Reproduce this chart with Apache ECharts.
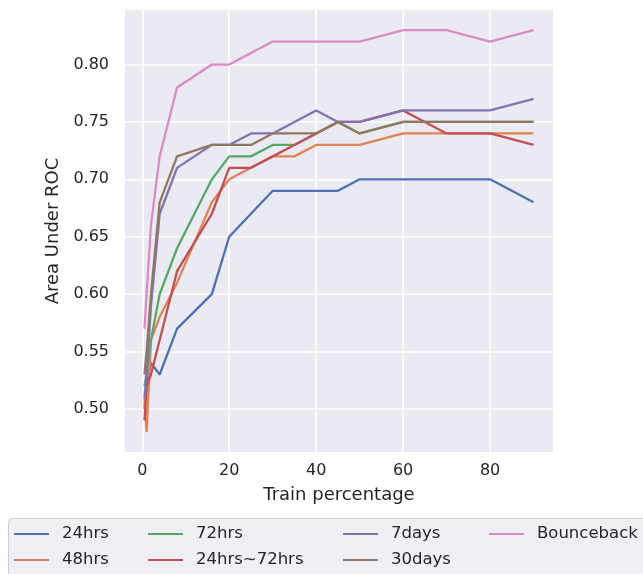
<!DOCTYPE html>
<html>
<head>
<meta charset="utf-8">
<script src="https://cdn.jsdelivr.net/npm/echarts@6/dist/echarts.min.js"></script>
<style>html,body{margin:0;padding:0;background:#fff}#c{width:643px;height:574px}</style>
</head>
<body>
<div id="c"></div>
<script>
const trainPct = [0.5, 1, 2, 4, 8, 16, 20, 25, 30, 35, 40, 45, 50, 60, 70, 80, 90];
const s24hrs      = [0.50, 0.52, 0.54, 0.53, 0.57, 0.60, 0.65, 0.67, 0.69, 0.69, 0.69, 0.69, 0.70, 0.70, 0.70, 0.70, 0.68];
const s48hrs      = [0.51, 0.48, 0.56, 0.58, 0.61, 0.68, 0.70, 0.71, 0.72, 0.72, 0.73, 0.73, 0.73, 0.74, 0.74, 0.74, 0.74];
const s72hrs      = [0.52, 0.53, 0.56, 0.60, 0.64, 0.70, 0.72, 0.72, 0.73, 0.73, 0.74, 0.75, 0.74, 0.75, 0.75, 0.75, 0.75];
const s24to72     = [0.49, 0.52, 0.53, 0.56, 0.62, 0.67, 0.71, 0.71, 0.72, 0.73, 0.74, 0.75, 0.75, 0.76, 0.74, 0.74, 0.73];
const s7days      = [0.51, 0.53, 0.59, 0.67, 0.71, 0.73, 0.73, 0.74, 0.74, 0.75, 0.76, 0.75, 0.75, 0.76, 0.76, 0.76, 0.77];
const s30days     = [0.53, 0.55, 0.60, 0.68, 0.72, 0.73, 0.73, 0.73, 0.74, 0.74, 0.74, 0.75, 0.74, 0.75, 0.75, 0.75, 0.75];
const sBounceback = [0.57, 0.60, 0.66, 0.72, 0.78, 0.80, 0.80, 0.81, 0.82, 0.82, 0.82, 0.82, 0.82, 0.83, 0.83, 0.82, 0.83];
const seriesNames = ['24hrs', '48hrs', '72hrs', '24hrs~72hrs', '7days', '30days', 'Bounceback'];
const seriesData = [s24hrs, s48hrs, s72hrs, s24to72, s7days, s30days, sBounceback];
const colors = ['#4C72B0', '#DD8452', '#55A868', '#C44E52', '#8172B3', '#937860', '#DA8BC3'];
const xTicks = [0, 20, 40, 60, 80];
const yTicks = [0.50, 0.55, 0.60, 0.65, 0.70, 0.75, 0.80];

const FONT = 'DejaVu Sans';
const TXT = '#262626';
const chart = echarts.init(document.getElementById('c'), null, {renderer: 'canvas'});

// legend grid: matplotlib fills columns first (2 rows)
const colLefts = [14, 148, 343, 489];
const rowTops = [524, 550];
const legends = seriesNames.map((n, i) => ({
  data: [n], orient: 'horizontal', padding: 0,
  left: colLefts[Math.floor(i / 2)], top: rowTops[i % 2],
  icon: 'rect', itemWidth: 35, itemHeight: 2,
  textStyle: {fontFamily: FONT, fontSize: 16.5, color: TXT, lineHeight: 20, padding: [0, 0, 0, 8]},
  selectedMode: false
}));

chart.setOption({
  animation: false,
  color: colors,
  graphic: [{
    type: 'rect', z: -1, left: 8, top: 518,
    shape: {width: 660, height: 70, r: 4},
    style: {fill: '#EFEFF5', stroke: '#CCCCCC', lineWidth: 1}
  }],
  legend: legends,
  grid: {left: 125, right: 90, top: 10, bottom: 122, show: true, backgroundColor: '#EAEAF2', borderWidth: 0},
  xAxis: {
    type: 'value', min: -3.975, max: 94.475,
    name: 'Train percentage', nameLocation: 'middle', nameGap: 34,
    nameTextStyle: {fontFamily: FONT, fontSize: 18, color: TXT},
    axisLine: {show: false},
    axisTick: {show: false, customValues: xTicks},
    axisLabel: {customValues: xTicks, fontFamily: FONT, fontSize: 16, color: TXT, margin: 11},
    splitLine: {show: true, lineStyle: {color: '#FFFFFF', width: 1.5}}
  },
  yAxis: {
    type: 'value', min: 0.4625, max: 0.8475,
    name: 'Area Under ROC', nameLocation: 'middle', nameGap: 62,
    nameTextStyle: {fontFamily: FONT, fontSize: 18, color: TXT},
    axisLine: {show: false},
    axisTick: {show: false, customValues: yTicks},
    axisLabel: {customValues: yTicks, fontFamily: FONT, fontSize: 16, color: TXT, margin: 16,
      formatter: v => v.toFixed(2)},
    splitLine: {show: true, lineStyle: {color: '#FFFFFF', width: 1.5}}
  },
  series: seriesNames.map((n, i) => ({
    name: n, type: 'line', showSymbol: false, symbol: 'none',
    data: trainPct.map((x, j) => [x, seriesData[i][j]]),
    lineStyle: {width: 2.3, color: colors[i]}, itemStyle: {color: colors[i]},
    z: 2 + i
  }))
});
</script>
</body>
</html>
